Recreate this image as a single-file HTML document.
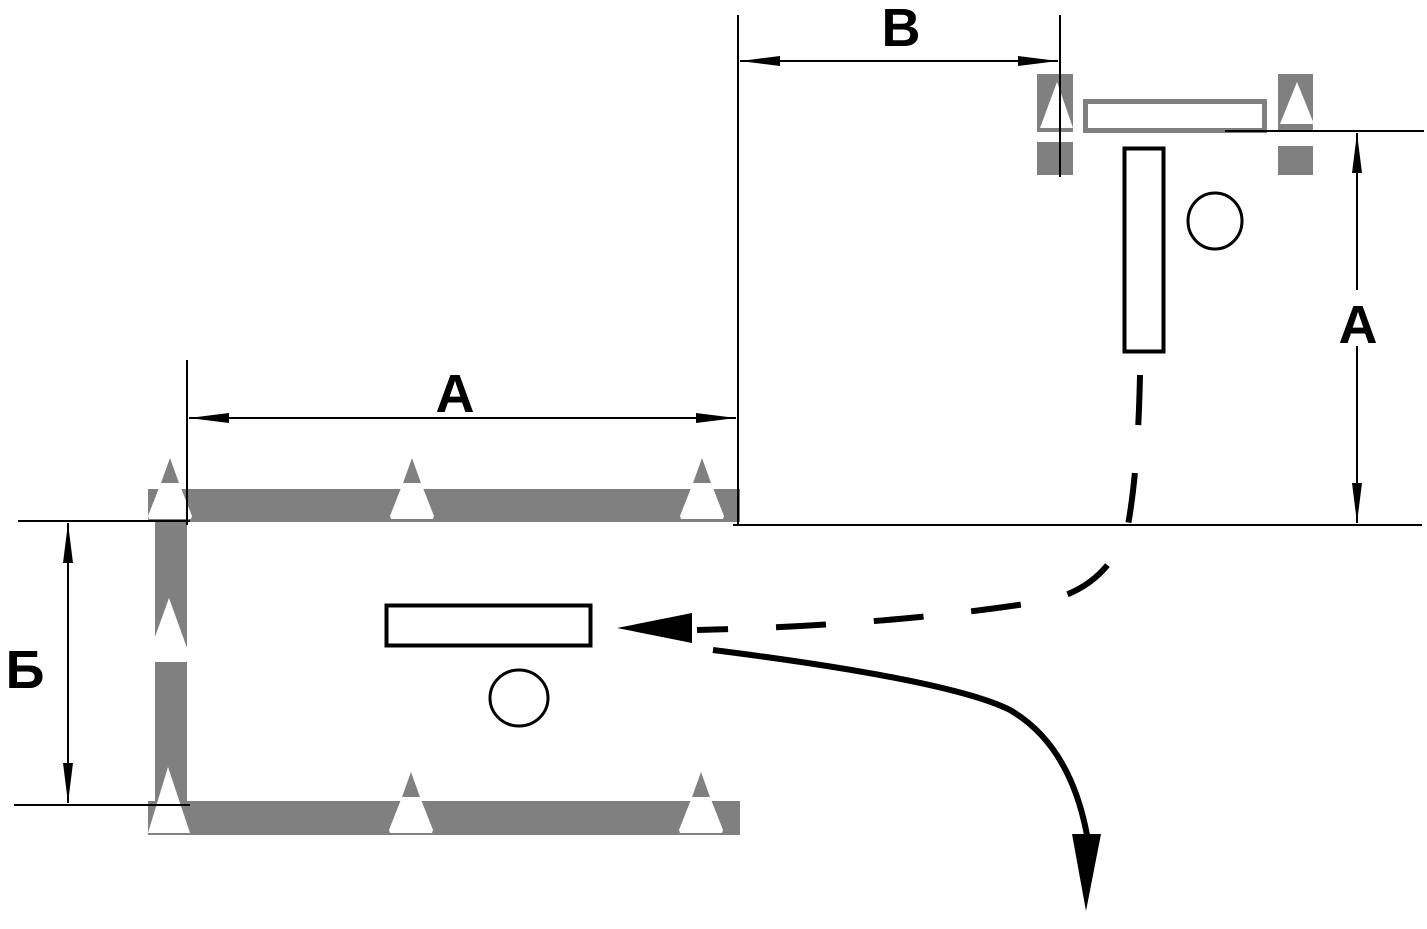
<!DOCTYPE html>
<html><head><meta charset="utf-8"><style>html,body{margin:0;padding:0;background:#fff}svg{display:block}</style></head>
<body>
<svg width="1427" height="929" viewBox="0 0 1427 929" xmlns="http://www.w3.org/2000/svg">
<defs>
<g id="cone">
<polygon points="0,0 -9,25 9,25" fill="#808080"/>
<polygon points="-9,25 9,25 22,58 21,61 -21,61 -22,58" fill="#fff"/>
</g>
</defs>
<!-- bars -->
<rect x="148" y="489" width="592" height="33" fill="#808080"/>
<rect x="148" y="801" width="592" height="34" fill="#808080"/>
<rect x="155" y="489" width="32" height="346" fill="#808080"/>
<rect x="150" y="648" width="40" height="14" fill="#fff"/>
<use href="#cone" x="170" y="458"/>
<use href="#cone" x="412" y="458"/>
<use href="#cone" x="702" y="458"/>
<polygon points="169,598 151,648 187,648" fill="#fff"/>
<polygon points="168,767 148,833 190,833" fill="#fff"/>
<use href="#cone" x="411" y="772"/>
<use href="#cone" x="701" y="772"/>
<!-- top right gates -->
<rect x="1037" y="74" width="36" height="58" fill="#808080"/>
<rect x="1037" y="142" width="36" height="33" fill="#808080"/>
<rect x="1278" y="74" width="35" height="58" fill="#808080"/>
<rect x="1278" y="146" width="35" height="29" fill="#808080"/>
<polygon points="1057,82 1040,128 1073,128" fill="#fff"/>
<polygon points="1297,82 1280,124 1314,124" fill="#fff"/>
<rect x="1085.5" y="101.5" width="179" height="29" fill="none" stroke="#808080" stroke-width="5"/>
<rect x="1124.5" y="148.5" width="39" height="203" fill="none" stroke="#000" stroke-width="4"/>
<ellipse cx="1215" cy="221" rx="27" ry="28" fill="none" stroke="#000" stroke-width="3"/>
<rect x="386.5" y="605.5" width="204" height="40" fill="none" stroke="#000" stroke-width="4"/>
<ellipse cx="519" cy="698" rx="29" ry="28" fill="none" stroke="#000" stroke-width="3"/>
<!-- dimension lines -->
<g stroke="#000" stroke-width="2" fill="none">
<line x1="738" y1="15" x2="738" y2="525"/>
<line x1="1060" y1="15" x2="1060" y2="177"/>
<line x1="740" y1="61" x2="1058" y2="61"/>
<line x1="1225" y1="131" x2="1424" y2="131"/>
<line x1="733" y1="525" x2="1422" y2="525"/>
<line x1="1357" y1="133" x2="1357" y2="523"/>
<line x1="187" y1="360" x2="187" y2="525"/>
<line x1="189" y1="418" x2="736" y2="418"/>
<line x1="18" y1="521" x2="190" y2="521"/>
<line x1="14" y1="805" x2="190" y2="805"/>
<line x1="68" y1="523" x2="68" y2="803"/>
</g>
<g fill="#000">
<polygon points="740,61 780,56 780,66"/>
<polygon points="1058,61 1018,56 1018,66"/>
<polygon points="1357,133 1352,173 1362,173"/>
<polygon points="1357,523 1352,483 1362,483"/>
<polygon points="189,418 229,413 229,423"/>
<polygon points="736,418 696,413 696,423"/>
<polygon points="68,523 63,563 73,563"/>
<polygon points="68,803 63,763 73,763"/>
</g>
<rect x="1335" y="290" width="44" height="56" fill="#fff"/>
<g font-family="Liberation Sans, sans-serif" font-weight="bold" font-size="54" text-anchor="middle" fill="#000">
<text x="901" y="46">B</text>
<text x="1358" y="343">A</text>
<text x="455" y="412">A</text>
<text x="25" y="688">Б</text>
</g>
<!-- dashed path -->
<path d="M1140,375 Q1138,470 1128,525 Q1110,585 1050,600 Q900,625 697,630" fill="none" stroke="#000" stroke-width="6" stroke-dasharray="50,48"/>
<polygon points="617,628 692,613 692,643" fill="#000"/>
<path d="M713,650 Q950,680 1010,710 Q1070,745 1087,835" fill="none" stroke="#000" stroke-width="6"/>
<polygon points="1072,834 1101,834 1086,911" fill="#000"/>
</svg>
</body></html>
